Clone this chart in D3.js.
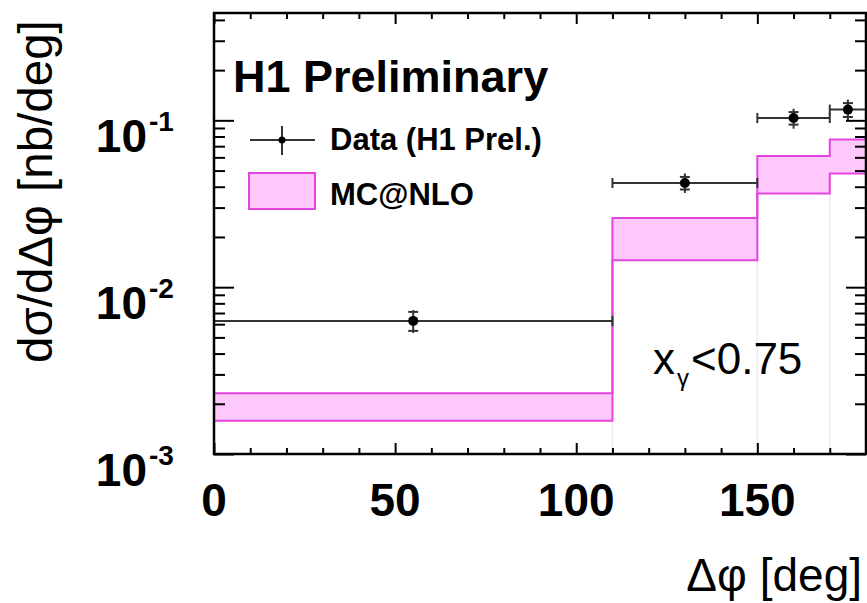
<!DOCTYPE html>
<html>
<head>
<meta charset="utf-8">
<script src="https://cdn.jsdelivr.net/npm/d3@7"></script>
<style>
body{margin:0;background:#fff;}
text{font-family:"Liberation Sans",Arial,Helvetica,sans-serif;}
</style>
</head>
<body>
<div id="vis"></div>
<script>
//Bins in delta phi (deg)
var binLo = [0, 110, 150, 170];
var binHi = [110, 150, 170, 180];
var binMid = [55, 130, 160, 175];

//H1 data points (nb/deg) with stat and total error ends
var dataVal = [0.00628, 0.0421, 0.1033, 0.116];
var statUp = [0.00711, 0.0458, 0.1121, 0.1269];
var statDn = [0.00547, 0.0385, 0.0943, 0.1047];
var totUp = [0.00728, 0.0480, 0.1175, 0.133];
var totDn = [0.00531, 0.0367, 0.0891, 0.100];

//MC@NLO band edges
var mcUp = [0.00231, 0.0260, 0.0611, 0.0769];
var mcDn = [0.00158, 0.01451, 0.0364, 0.0480];

//Axis ticks
var xTicks = [0, 50, 100, 150];
var xMinor = [10, 20, 30, 40, 60, 70, 80, 90, 110, 120, 130, 140, 160, 170];
var yTicks = [1e-3, 1e-2, 1e-1];
var yExp = ["-3", "-2", "-1"];
var yMinor = [2e-3, 3e-3, 4e-3, 5e-3, 6e-3, 7e-3, 8e-3, 9e-3,
              2e-2, 3e-2, 4e-2, 5e-2, 6e-2, 7e-2, 8e-2, 9e-2,
              0.2, 0.3, 0.4];

var W = 867, H = 603;
var margin = {top: 13, right: 1, bottom: 149, left: 214};

var bandFill = "#ffc8fa", bandLine = "#e444de", barColor = "#333";

var svg = d3.select("#vis").append("svg")
            .attr("width", W).attr("height", H);

var x = d3.scaleLinear().domain([0, 180]).range([margin.left, W - margin.right]);
var y = d3.scaleLog().domain([1e-3, 0.44]).range([H - margin.bottom, margin.top]);

var x0 = x.range()[0], x1 = x.range()[1], yB = y.range()[0], yT = y.range()[1];

var bins = d3.range(binLo.length);

//faint histogram edges below the band
svg.selectAll(".edge").data([1, 2, 3]).enter().append("line")
   .attr("x1", function(i){ return x(binLo[i]); })
   .attr("x2", function(i){ return x(binLo[i]); })
   .attr("y1", function(i){ return Math.max(y(mcDn[i]), y(mcDn[i-1])); })
   .attr("y2", yB)
   .attr("stroke", "#f7e4f5").attr("stroke-width", 1.5);

//MC@NLO band
svg.selectAll(".band").data(bins).enter().append("rect")
   .attr("x", function(i){ return x(binLo[i]); })
   .attr("width", function(i){ return x(binHi[i]) - x(binLo[i]); })
   .attr("y", function(i){ return y(mcUp[i]); })
   .attr("height", function(i){ return y(mcDn[i]) - y(mcUp[i]); })
   .attr("fill", bandFill);

var step = d3.line().x(function(d){ return x(d[0]); }).y(function(d){ return y(d[1]); })
             .curve(d3.curveStepAfter);
[mcUp, mcDn].forEach(function(arr){
  var pts = bins.map(function(i){ return [binLo[i], arr[i]]; });
  pts.push([binHi[binHi.length - 1], arr[arr.length - 1]]);
  svg.append("path").attr("d", step(pts))
     .attr("fill", "none").attr("stroke", bandLine).attr("stroke-width", 2);
});

//Data error bars
var pts = svg.selectAll(".pt").data(bins).enter().append("g");
pts.append("line")
   .attr("x1", function(i){ return x(binLo[i]); }).attr("x2", function(i){ return x(binHi[i]); })
   .attr("y1", function(i){ return y(dataVal[i]); }).attr("y2", function(i){ return y(dataVal[i]); })
   .attr("stroke", barColor).attr("stroke-width", 2);
[binLo, binHi].forEach(function(arr){
  pts.append("line")
     .attr("x1", function(i){ return x(arr[i]); }).attr("x2", function(i){ return x(arr[i]); })
     .attr("y1", function(i){ return y(dataVal[i]) - 5; }).attr("y2", function(i){ return y(dataVal[i]) + 5; })
     .attr("stroke", barColor).attr("stroke-width", 2);
});
pts.append("line")
   .attr("x1", function(i){ return x(binMid[i]); }).attr("x2", function(i){ return x(binMid[i]); })
   .attr("y1", function(i){ return y(totUp[i]); }).attr("y2", function(i){ return y(totDn[i]); })
   .attr("stroke", barColor).attr("stroke-width", 2);
[statUp, statDn].forEach(function(arr){
  pts.append("line")
     .attr("x1", function(i){ return x(binMid[i]) - 5; }).attr("x2", function(i){ return x(binMid[i]) + 5; })
     .attr("y1", function(i){ return y(arr[i]); }).attr("y2", function(i){ return y(arr[i]); })
     .attr("stroke", barColor).attr("stroke-width", 2);
});
pts.append("circle")
   .attr("cx", function(i){ return x(binMid[i]); })
   .attr("cy", function(i){ return y(dataVal[i]); })
   .attr("r", 5).attr("fill", "#000");

//Axes: ticks drawn inward on all four sides
function tickAxis(axis, vals, size, tr){
  var g = svg.append("g").attr("transform", tr)
             .call(axis.tickValues(vals).tickSizeInner(size).tickSizeOuter(0).tickFormat(""));
  g.select(".domain").remove();
  g.selectAll(".tick line").attr("stroke", "#000").attr("stroke-width", 2);
}
tickAxis(d3.axisBottom(x), xTicks, -11, "translate(0," + yB + ")");
tickAxis(d3.axisBottom(x), xMinor, -6, "translate(0," + yB + ")");
tickAxis(d3.axisTop(x), xTicks, -11, "translate(0," + yT + ")");
tickAxis(d3.axisTop(x), xMinor, -6, "translate(0," + yT + ")");
tickAxis(d3.axisLeft(y), yTicks, -20, "translate(" + x0 + ",0)");
tickAxis(d3.axisLeft(y), yMinor, -11, "translate(" + x0 + ",0)");
tickAxis(d3.axisRight(y), yTicks, -20, "translate(" + x1 + ",0)");
tickAxis(d3.axisRight(y), yMinor, -11, "translate(" + x1 + ",0)");

svg.append("rect").attr("x", x0).attr("y", yT).attr("width", x1 - x0).attr("height", yB - yT)
   .attr("fill", "none").attr("stroke", "#000").attr("stroke-width", 2.5);

//Tick labels
svg.selectAll(".xl").data(xTicks).enter().append("text")
   .attr("x", function(d){ return x(d); }).attr("y", yB + 62)
   .attr("text-anchor", "middle").attr("font-weight", "bold").attr("font-size", 46)
   .text(function(d){ return d; });

var yl = svg.selectAll(".yl").data(yTicks).enter().append("g");
yl.append("text")
  .attr("x", 147).attr("y", function(d){ return y(d) + 32; })
  .attr("text-anchor", "end").attr("font-weight", "bold").attr("font-size", 46)
  .text("10");
yl.append("text")
  .attr("x", 149).attr("y", function(d){ return y(d) + 11; })
  .attr("font-weight", "bold").attr("font-size", 28)
  .text(function(d, i){ return yExp[i]; });

//Axis titles
svg.append("text").attr("transform", "translate(52,363) rotate(-90)")
   .attr("font-size", 47.5).text("dσ/dΔφ [nb/deg]");
svg.append("text").attr("x", 862).attr("y", 591).attr("text-anchor", "end")
   .attr("font-size", 46).text("Δφ [deg]");

//Legend
svg.append("text").attr("x", 233).attr("y", 92).attr("font-weight", "bold")
   .attr("font-size", 45).text("H1 Preliminary");
svg.append("line").attr("x1", 250).attr("x2", 315).attr("y1", 140).attr("y2", 140)
   .attr("stroke", barColor).attr("stroke-width", 2);
svg.append("line").attr("x1", 282).attr("x2", 282).attr("y1", 126).attr("y2", 155)
   .attr("stroke", barColor).attr("stroke-width", 2);
svg.append("circle").attr("cx", 282).attr("cy", 140).attr("r", 3.5).attr("fill", "#000");
svg.append("text").attr("x", 330).attr("y", 150).attr("font-weight", "bold")
   .attr("font-size", 31).text("Data (H1 Prel.)");
svg.append("rect").attr("x", 249).attr("y", 173).attr("width", 66).attr("height", 36)
   .attr("fill", bandFill).attr("stroke", bandLine).attr("stroke-width", 2);
svg.append("text").attr("x", 330).attr("y", 205).attr("font-weight", "bold")
   .attr("font-size", 31).text("MC@NLO");

//Cut label
svg.append("text").attr("x", 653).attr("y", 374).attr("font-size", 44).text("x");
svg.append("text").attr("x", 677).attr("y", 386).attr("font-size", 24).text("γ");
svg.append("text").attr("x", 691).attr("y", 374).attr("font-size", 44).text("<0.75");
</script>
</body>
</html>
